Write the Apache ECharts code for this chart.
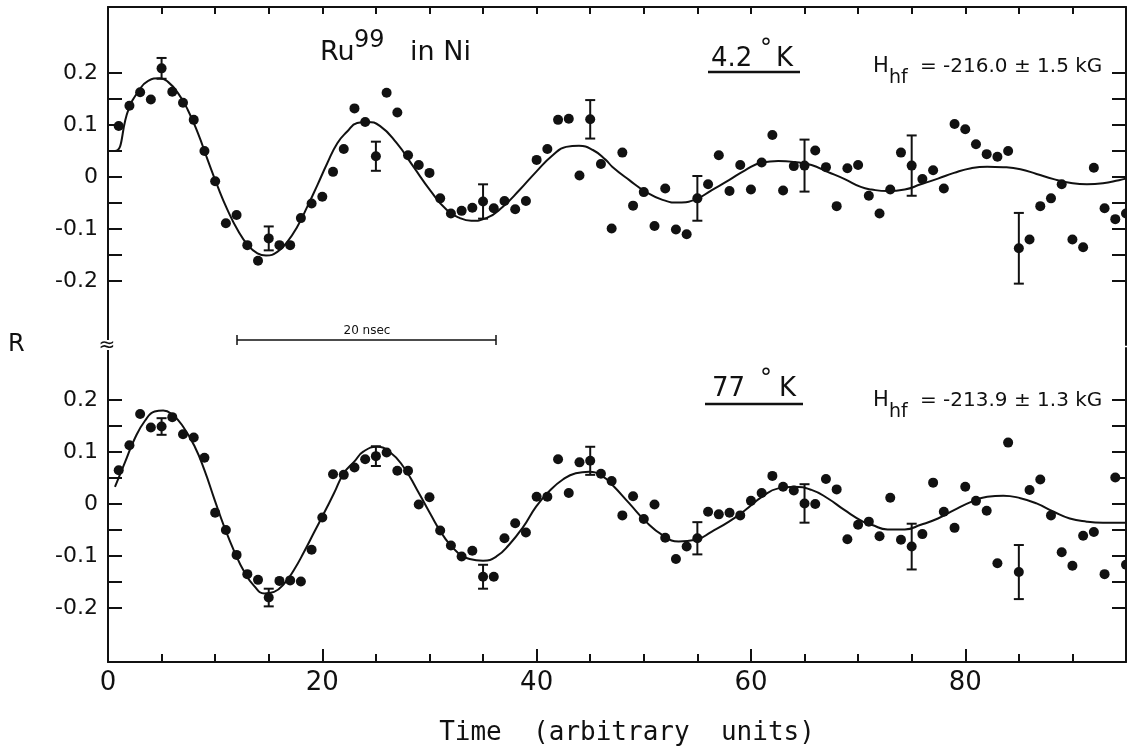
<!DOCTYPE html>
<html>
<head>
<meta charset="utf-8">
<script src="https://cdn.jsdelivr.net/npm/echarts@6/dist/echarts.min.js"></script>
<style>
html,body{margin:0;padding:0;background:#fff;}
#chart{width:1127px;height:754px;}
</style>
</head>
<body>
<div id="chart"></div>
<script>
// ---- data ----
const channelX = [1,2,3,4,5,6,7,8,9,10,11,12,13,14,15,16,17,18,19,20,21,22,23,24,25,26,27,28,29,30,31,32,33,34,35,36,37,38,39,40,41,42,43,44,45,46,47,48,49,50,51,52,53,54,55,56,57,58,59,60,61,62,63,64,65,66,67,68,69,70,71,72,73,74,75,76,77,78,79,80,81,82,83,84,85,86,87,88,89,90,91,92,93,94,95];

// 4.2 K measured R
const topR = [0.098,0.137,0.163,0.149,0.209,0.164,0.143,0.110,0.050,-0.008,
  -0.089,-0.073,-0.131,-0.161,-0.118,-0.131,-0.131,-0.079,-0.051,-0.038,
  0.010,0.054,0.132,0.106,0.040,0.162,0.124,0.042,0.023,0.008,
  -0.041,-0.070,-0.065,-0.059,-0.047,-0.060,-0.046,-0.062,-0.046,0.033,
  0.054,0.110,0.112,0.003,0.111,0.025,-0.099,0.047,-0.055,-0.029,
  -0.094,-0.022,-0.101,-0.110,-0.041,-0.014,0.042,-0.027,0.023,-0.024,
  0.028,0.081,-0.026,0.021,0.022,0.051,0.019,-0.056,0.017,0.023,
  -0.036,-0.070,-0.024,0.047,0.022,-0.004,0.013,-0.022,0.102,0.092,
  0.063,0.044,0.039,0.050,-0.137,-0.120,-0.056,-0.041,-0.014,-0.120,
  -0.135,0.018,-0.060,-0.081,-0.070];

// 77 K measured R
const botR = [0.065,0.113,0.173,0.147,0.149,0.167,0.134,0.128,0.089,-0.017,
  -0.050,-0.098,-0.135,-0.146,-0.180,-0.148,-0.147,-0.149,-0.088,-0.026,
  0.057,0.056,0.070,0.086,0.092,0.099,0.064,0.064,-0.001,0.013,
  -0.051,-0.080,-0.101,-0.090,-0.140,-0.140,-0.066,-0.037,-0.055,0.014,
  0.014,0.086,0.021,0.080,0.083,0.058,0.044,-0.022,0.015,-0.029,
  -0.001,-0.065,-0.106,-0.082,-0.066,-0.015,-0.020,-0.017,-0.022,0.006,
  0.021,0.054,0.033,0.026,0.001,0.000,0.048,0.028,-0.068,-0.040,
  -0.034,-0.062,0.012,-0.069,-0.082,-0.058,0.041,-0.015,-0.046,0.033,
  0.006,-0.013,-0.114,0.118,-0.131,0.027,0.047,-0.022,-0.093,-0.119,
  -0.061,-0.054,-0.135,0.051,-0.117];

// error bars (channel, half-width)
const errX = [5,15,25,35,45,55,65,75,85];
const topErr = [0.020,0.023,0.028,0.033,0.037,0.043,0.050,0.058,0.068];
const botErr = [0.016,0.017,0.019,0.023,0.027,0.031,0.037,0.044,0.052];

// fitted curves (x, R)
const topFitX = [0,0.65,1.9,2.8,3.75,4.85,5.6,6.55,7.45,8.4,9.3,10.25,11.15,12.1,13.05,13.95,14.75,15.8,16.75,17.65,18.6,19.55,20.45,21.4,22.3,23.25,24.15,25.4,26.95,28.5,30.05,31.6,32.85,33.9,35.3,36.85,38.4,39.95,41.5,42.75,43.95,45.25,46.45,47.05,48.65,50.15,51.75,53.25,54.85,56.35,57.95,59.45,61.05,62.55,64.05,65.65,67.15,68.75,70.25,71.25,72.75,74.35,75.85,77.45,78.95,80.55,82.05,83.55,85.15,86.65,88.25,89.75,91.35,92.85,94.35,95];
const topFitY = [0.05,0.05,0.129,0.164,0.185,0.190,0.183,0.161,0.129,0.084,0.033,-0.019,-0.063,-0.102,-0.131,-0.147,-0.151,-0.144,-0.124,-0.096,-0.057,-0.015,0.026,0.065,0.087,0.104,0.106,0.098,0.065,0.020,-0.025,-0.063,-0.079,-0.084,-0.079,-0.057,-0.025,0.010,0.042,0.058,0.060,0.052,0.033,0.020,-0.006,-0.028,-0.044,-0.049,-0.043,-0.025,-0.006,0.013,0.028,0.031,0.029,0.023,0.010,-0.004,-0.019,-0.024,-0.027,-0.024,-0.014,-0.003,0.008,0.017,0.020,0.019,0.015,0.006,-0.004,-0.011,-0.014,-0.012,-0.006,-0.003];

const botFitX = [0.65,1.6,2.5,3.45,4.35,5.15,6.05,7.0,8.1,9.0,9.95,10.85,11.8,12.7,13.65,14.6,15.5,16.45,17.35,18.3,19.2,20.15,21.1,22.0,23.0,23.85,25.1,26.35,27.55,28.85,30.05,31.25,32.55,33.75,35.0,36.25,37.45,38.75,39.95,41.15,42.45,43.65,44.9,46.15,47.05,48.65,50.15,51.75,53.25,54.85,56.35,57.95,59.45,61.05,62.55,64.05,65.65,67.15,68.75,70.45,71.25,72.75,74.35,75.85,77.45,78.95,80.55,82.05,83.55,85.15,86.65,88.25,89.75,91.35,92.85,94.35,95];
const botFitY = [0.033,0.081,0.126,0.160,0.178,0.180,0.171,0.149,0.110,0.065,0.008,-0.044,-0.092,-0.130,-0.158,-0.172,-0.169,-0.153,-0.127,-0.092,-0.056,-0.018,0.021,0.059,0.082,0.101,0.110,0.099,0.072,0.027,-0.018,-0.060,-0.092,-0.106,-0.109,-0.101,-0.078,-0.044,-0.005,0.024,0.047,0.059,0.062,0.053,0.037,0.001,-0.033,-0.060,-0.072,-0.069,-0.053,-0.034,-0.012,0.014,0.030,0.033,0.027,0.011,-0.012,-0.034,-0.040,-0.049,-0.049,-0.040,-0.028,-0.012,0.004,0.014,0.016,0.011,0.001,-0.015,-0.028,-0.034,-0.036,-0.036,-0.036];

// ticks
const xLabelValues = [0,20,40,60,80];
const xMinorTicks = [0,5,10,15,20,25,30,35,40,45,50,55,60,65,70,75,80,85,90];
const yTickValues = [-0.2,-0.15,-0.1,-0.05,0,0.05,0.1,0.15,0.2];
const yLabelValues = [-0.2,-0.1,0,0.1,0.2];

// ---- chart ----
const chart = echarts.init(document.getElementById('chart'), null, {renderer:'canvas'});
const BLACK = '#111';
const FONT = 'DejaVu Sans';

function pairs(xs, ys){ return xs.map((x,i)=>[x, ys[i]]); }
function errData(ys, errs){ return errX.map((x,i)=>[x, ys[channelX.indexOf(x)], errs[i]]); }

function yAx(grid, min, max, pos, labels){
  return {
    type:'value', gridIndex:grid, min:min, max:max, position:pos,
    axisLine:{show:true, onZero:false, lineStyle:{color:BLACK, width:2}},
    axisTick:{show:true, inside:true, length:14, customValues:yTickValues, lineStyle:{color:BLACK, width:2}},
    axisLabel:{show:labels, customValues:yLabelValues, margin:10, color:BLACK, fontSize:22, fontFamily:FONT,
      formatter:v=>Math.abs(v)<1e-9?'0':v.toFixed(1)},
    splitLine:{show:false}
  };
}

function errSeries(xi, yi, data){
  return {
    type:'custom', xAxisIndex:xi, yAxisIndex:yi, data:data, encode:{x:0,y:1}, z:3,
    renderItem:function(params, api){
      const x=api.value(0), y=api.value(1), e=api.value(2);
      const hi=api.coord([x,y+e]), lo=api.coord([x,y-e]);
      const st={stroke:BLACK, lineWidth:2};
      return {type:'group', children:[
        {type:'line', shape:{x1:hi[0],y1:hi[1],x2:lo[0],y2:lo[1]}, style:st},
        {type:'line', shape:{x1:hi[0]-5,y1:hi[1],x2:hi[0]+5,y2:hi[1]}, style:st},
        {type:'line', shape:{x1:lo[0]-5,y1:lo[1],x2:lo[0]+5,y2:lo[1]}, style:st}
      ]};
    }
  };
}

// text element positioned by its anchor point
function txt(x, y, text, size, align, family){
  return {type:'text', x:x, y:y, z:10,
    style:{text:text, fill:BLACK, fontSize:size, fontFamily:family||FONT,
      align:align||'left', verticalAlign:'middle'}};
}
function seg(x1,y1,x2,y2,w){
  return {type:'line', z:10, shape:{x1:x1,y1:y1,x2:x2,y2:y2}, style:{stroke:BLACK,lineWidth:w}};
}

const option = {
  animation:false,
  backgroundColor:'#fff',
  grid:[
    {left:108, top:7, width:1018, height:338},
    {left:108, top:348, width:1018, height:314}
  ],
  xAxis:[
    {type:'value', gridIndex:0, position:'top', min:0, max:95,
      axisLine:{show:true, onZero:false, lineStyle:{color:BLACK,width:2}},
      axisTick:{show:true, inside:true, length:7, customValues:xMinorTicks, lineStyle:{color:BLACK,width:2}},
      axisLabel:{show:false}, splitLine:{show:false}},
    {type:'value', gridIndex:1, position:'bottom', min:0, max:95,
      axisLine:{show:true, onZero:false, lineStyle:{color:BLACK,width:2}},
      axisTick:{show:true, inside:true, length:8, customValues:xMinorTicks, lineStyle:{color:BLACK,width:2}},
      axisLabel:{show:true, customValues:xLabelValues, margin:8, color:BLACK, fontSize:26, fontFamily:FONT},
      splitLine:{show:false}},
    {type:'value', gridIndex:1, position:'bottom', min:0, max:95,
      axisLine:{show:false, onZero:false},
      axisTick:{show:true, inside:true, length:13, customValues:xLabelValues, lineStyle:{color:BLACK,width:2}},
      axisLabel:{show:false}, splitLine:{show:false}}
  ],
  yAxis:[
    yAx(0,-0.323,0.327,'left',true),
    yAx(0,-0.323,0.327,'right',false),
    yAx(1,-0.304,0.3,'left',true),
    yAx(1,-0.304,0.3,'right',false)
  ],
  series:[
    {type:'line', xAxisIndex:0, yAxisIndex:0, data:pairs(topFitX, topFitY), smooth:0.5, showSymbol:false,
      lineStyle:{color:BLACK, width:2}, z:2},
    {type:'scatter', xAxisIndex:0, yAxisIndex:0, data:pairs(channelX, topR), symbol:'circle', symbolSize:10,
      itemStyle:{color:BLACK, opacity:1}, z:4},
    errSeries(0,0,errData(topR, topErr)),
    {type:'line', xAxisIndex:1, yAxisIndex:2, data:pairs(botFitX, botFitY), smooth:0.5, showSymbol:false,
      lineStyle:{color:BLACK, width:2}, z:2},
    {type:'scatter', xAxisIndex:1, yAxisIndex:2, data:pairs(channelX, botR), symbol:'circle', symbolSize:10,
      itemStyle:{color:BLACK, opacity:1}, z:4},
    errSeries(1,2,errData(botR, botErr))
  ],
  graphic:[
    // panel title
    txt(320,53,'Ru',27), txt(354,41,'99',24), txt(410,53,'in Ni',27),
    // 4.2 K
    txt(711,59,'4.2',26), txt(760,50,'°',24), txt(776,59,'K',26),
    seg(708,72,800,72,2.5),
    txt(873,67,'H',21), txt(889,78,'hf',19), txt(920,67,'= -216.0 ± 1.5 kG',20),
    // 77 K
    txt(712,389,'77',26), txt(760,380,'°',24), txt(779,389,'K',26),
    seg(705,404,803,404,2.5),
    txt(873,401,'H',21), txt(889,412,'hf',19), txt(920,401,'= -213.9 ± 1.3 kG',20),
    // R label
    txt(8,345,'R',24),
    // axis break mark
    {type:'rect', z:9, shape:{x:102,y:340,width:10,height:10}, style:{fill:'#fff'}},
    txt(107,346,'≈',20,'center'),
    // 20 nsec scale bar
    seg(237,340,496,340,1.5), seg(237,335,237,345,1.5), seg(496,335,496,345,1.5),
    txt(367,331,'20 nsec',12,'center'),
    // axis title
    txt(627,733,'Time  (arbitrary  units)',26,'center','DejaVu Sans Mono')
  ]
};
chart.setOption(option);
</script>
</body>
</html>
